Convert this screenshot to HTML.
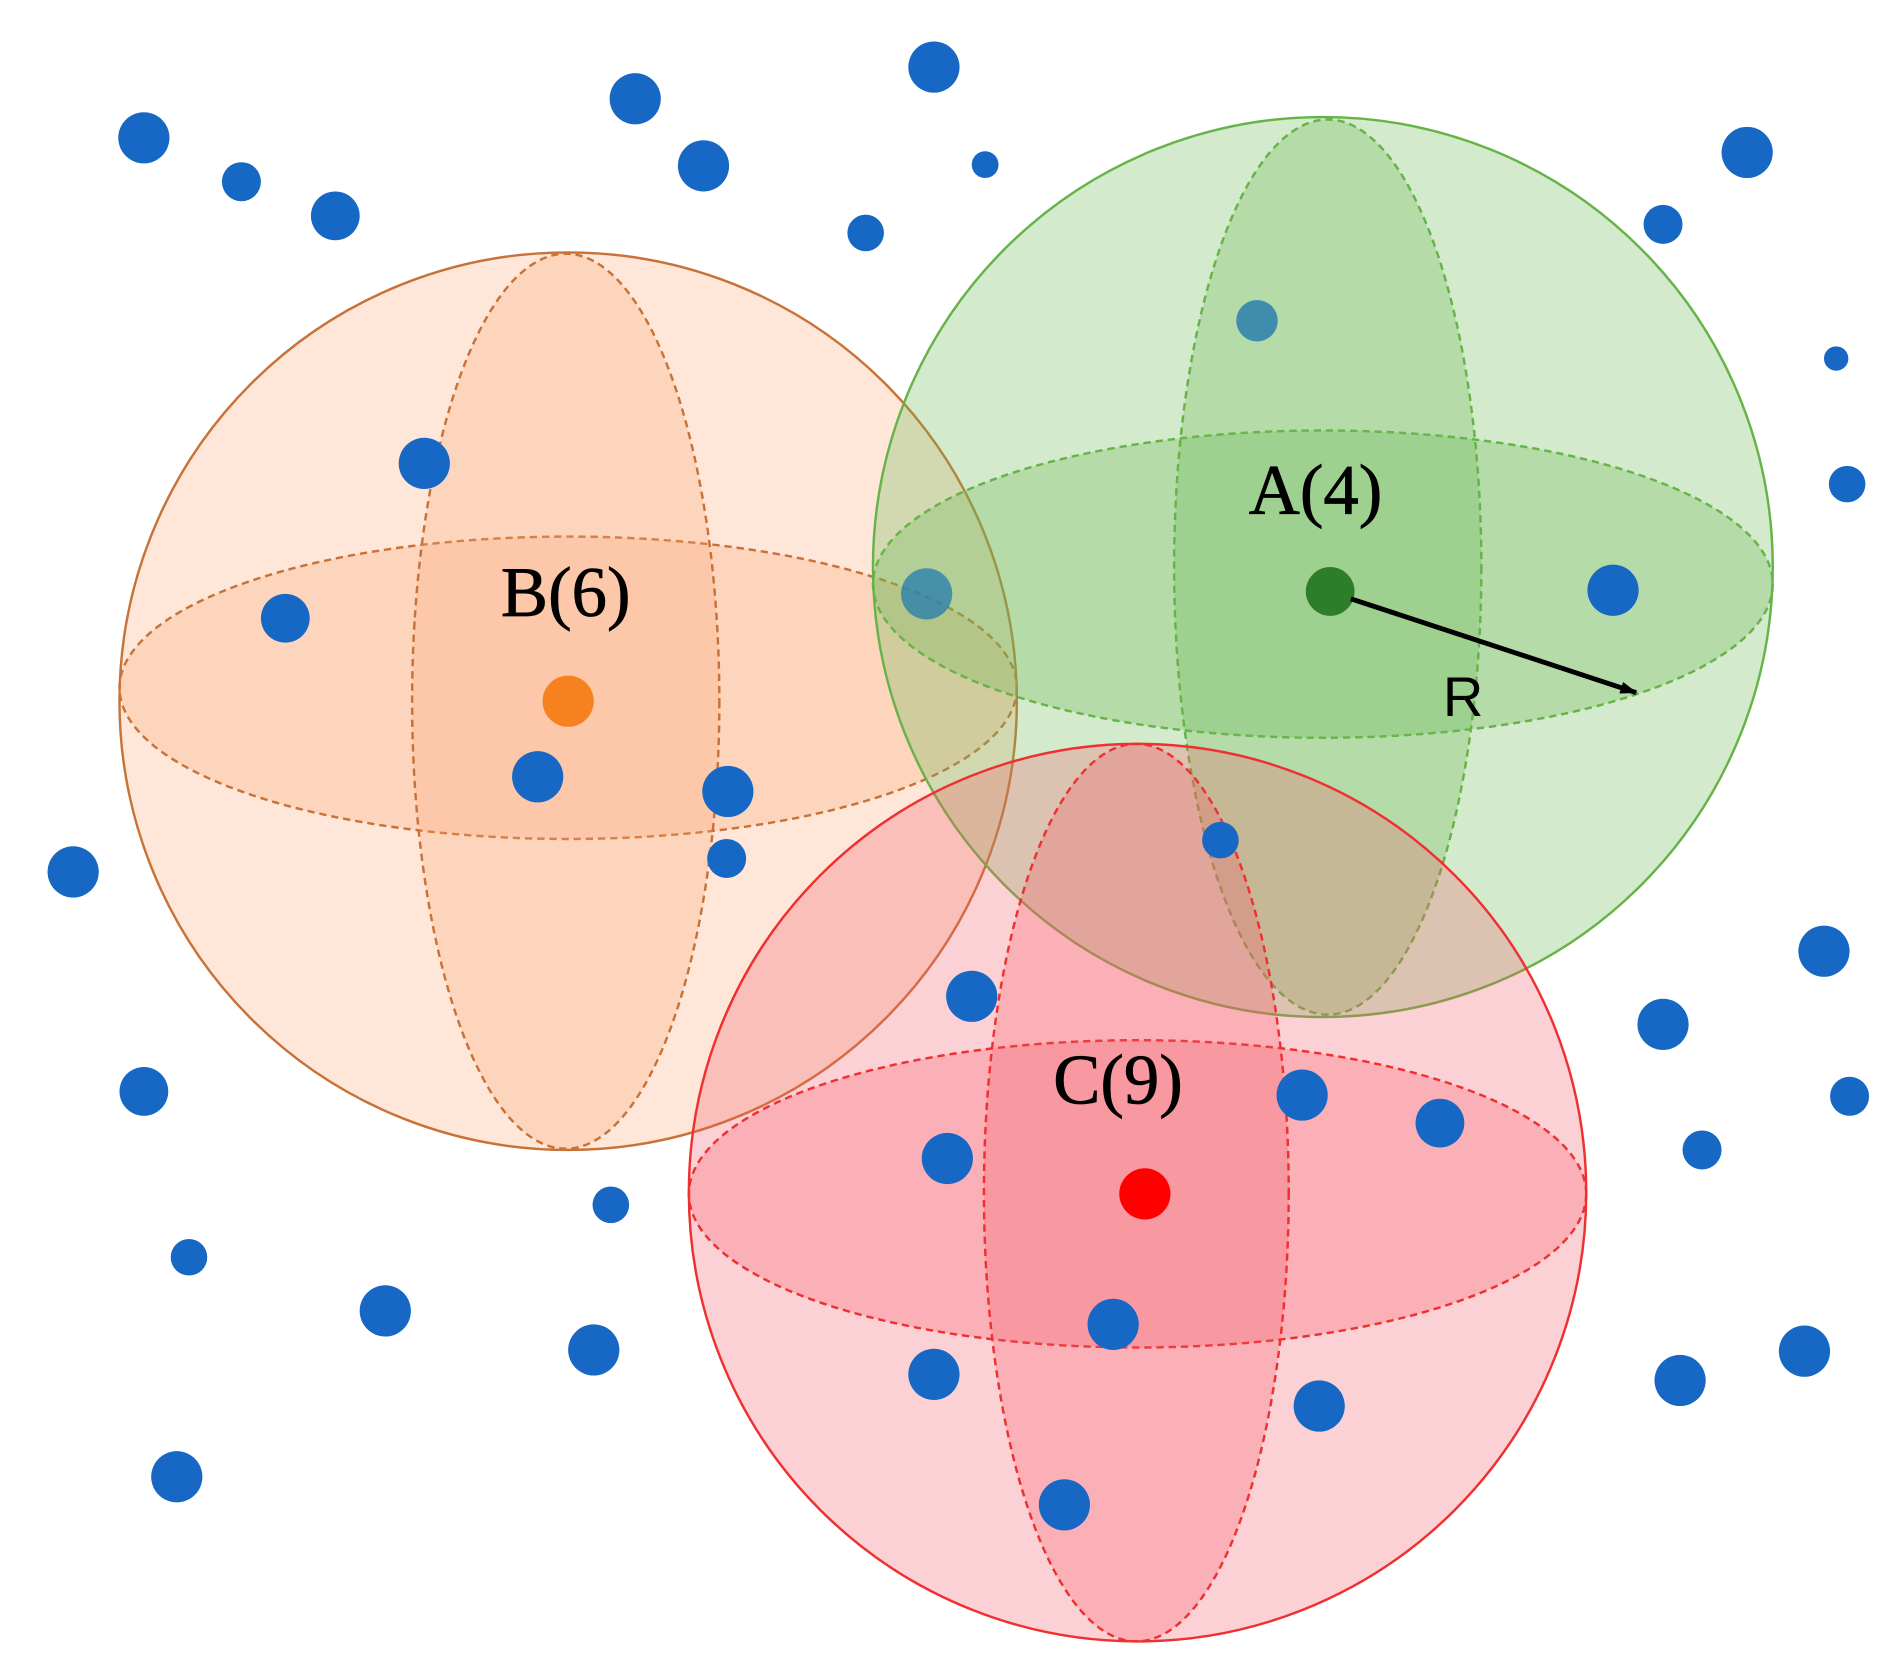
<!DOCTYPE html>
<html><head><style>html,body{margin:0;padding:0;background:#fff}svg{display:block}</style></head>
<body>
<svg width="1902" height="1667" viewBox="0 0 1560 1367" preserveAspectRatio="none" xmlns="http://www.w3.org/2000/svg">
<defs><marker id="ah" markerWidth="14" markerHeight="10" refX="13" refY="5" orient="auto" markerUnits="userSpaceOnUse"><path d="M0,0 L14,5 L0,10 Z" fill="#000"/></marker></defs>
<rect width="1560" height="1367" fill="#fff"/>
<!-- Orange B -->
<g stroke="#c87238" stroke-width="2" fill="rgba(250,170,120,0.28)">
<circle cx="466" cy="575" r="368"/>
<ellipse cx="466" cy="564" rx="368" ry="124" stroke-dasharray="6 4"/>
<ellipse cx="464" cy="575" rx="126" ry="367" stroke-dasharray="6 4"/>
</g>
<!-- Green A -->
<g stroke="#66b347" stroke-width="2" fill="rgba(110,185,85,0.30)">
<circle cx="1085" cy="465" r="369"/>
<ellipse cx="1085" cy="479" rx="369" ry="126" stroke-dasharray="6 4"/>
<ellipse cx="1089" cy="465" rx="126" ry="367" stroke-dasharray="6 4"/>
</g>
<circle cx="1031" cy="263" r="17" fill="#2a7fae" opacity="0.85"/>
<circle cx="760" cy="487" r="21" fill="#2a7fae" opacity="0.8"/>
<!-- Red C -->
<g stroke="#ee3030" stroke-width="2" fill="rgba(245,90,105,0.28)">
<circle cx="933" cy="978" r="368"/>
<ellipse cx="933" cy="979" rx="368" ry="126" stroke-dasharray="6 4"/>
<ellipse cx="932" cy="978" rx="125" ry="368" stroke-dasharray="6 4"/>
</g>
<g fill="#1767c4">
<circle cx="118" cy="113" r="21"/><circle cx="198" cy="149" r="16"/><circle cx="275" cy="177" r="20"/>
<circle cx="521" cy="81" r="21"/><circle cx="577" cy="136" r="21"/><circle cx="766" cy="55" r="21"/>
<circle cx="808" cy="135" r="11"/><circle cx="710" cy="191" r="15"/><circle cx="1433" cy="125" r="21"/>
<circle cx="1364" cy="184" r="16"/><circle cx="1506" cy="294" r="10"/><circle cx="1515" cy="397" r="15"/>
<circle cx="348" cy="380" r="21"/><circle cx="234" cy="507" r="20"/><circle cx="1323" cy="484" r="21"/>
<circle cx="441" cy="637" r="21"/><circle cx="597" cy="649" r="21"/><circle cx="596" cy="704" r="16"/>
<circle cx="1001" cy="689" r="15"/><circle cx="60" cy="715" r="21"/><circle cx="1496" cy="780" r="21"/>
<circle cx="1364" cy="840" r="21"/><circle cx="797" cy="817" r="21"/><circle cx="118" cy="895" r="20"/>
<circle cx="1068" cy="898" r="21"/><circle cx="1181" cy="921" r="20"/><circle cx="1517" cy="899" r="16"/>
<circle cx="1396" cy="943" r="16"/><circle cx="777" cy="950" r="21"/><circle cx="501" cy="988" r="15"/>
<circle cx="155" cy="1031" r="15"/><circle cx="316" cy="1075" r="21"/><circle cx="487" cy="1107" r="21"/>
<circle cx="913" cy="1086" r="21"/><circle cx="766" cy="1127" r="21"/><circle cx="1082" cy="1153" r="21"/>
<circle cx="1378" cy="1132" r="21"/><circle cx="1480" cy="1108" r="21"/><circle cx="145" cy="1211" r="21"/>
<circle cx="873" cy="1234" r="21"/>
</g>
<circle cx="466" cy="575" r="21" fill="#f5821f"/>
<circle cx="1091" cy="485" r="20" fill="#2d7d2a"/>
<circle cx="939" cy="979" r="21" fill="#f00"/>
<line x1="1108" y1="491" x2="1342" y2="568" stroke="#000" stroke-width="4" marker-end="url(#ah)"/>
<g font-family="Liberation Serif, serif" font-size="58" fill="#000" text-anchor="middle" stroke="#000" stroke-width="0.6">
<text x="1079" y="421">A(4)</text>
<text x="464" y="505">B(6)</text>
<text x="917" y="905">C(9)</text>
</g>
<text x="1200" y="587" font-family="Liberation Sans, sans-serif" font-size="46" fill="#000" text-anchor="middle">R</text>
</svg>
</body></html>
